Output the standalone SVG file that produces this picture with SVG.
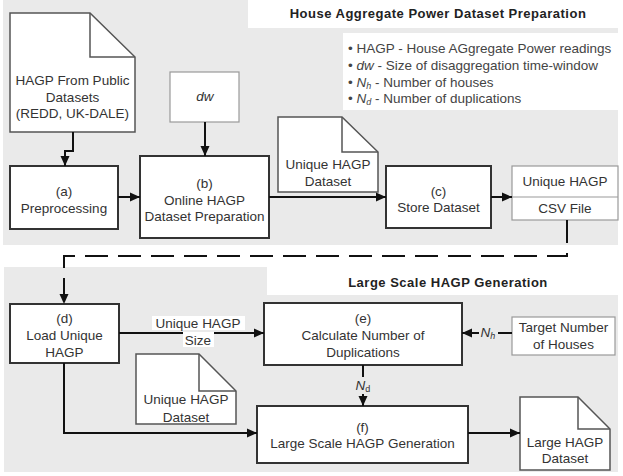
<svg xmlns="http://www.w3.org/2000/svg" width="623" height="476" viewBox="0 0 623 476">
<defs>
<marker id="ah" markerUnits="userSpaceOnUse" markerWidth="10" markerHeight="10" refX="10" refY="5" orient="auto"><path d="M0,0.5 L10,5 L0,9.5 z" fill="#111"/></marker>
<style>
text{font-family:"Liberation Sans",Arial,sans-serif;font-size:13.5px;fill:#333;text-anchor:middle}
.proc{fill:#fff;stroke:#333;stroke-width:2}
.thin{fill:#fff;stroke:#999;stroke-width:1.2}
.doc{fill:#fff;stroke:#555;stroke-width:1.5;stroke-linejoin:miter}
.fold{fill:none;stroke:#555;stroke-width:1.5}
.con{fill:none;stroke:#111;stroke-width:2}
.title{font-weight:bold;font-size:13px;letter-spacing:0.5px;fill:#222}
.leg{text-anchor:start;fill:#444}
.it{font-style:italic}
</style>
</defs>
<rect width="623" height="476" fill="#fff"/>
<g id="backgrounds">
<polygon points="3,0 248,0 248,28 618,28 618,245 3,245" fill="#eaeaea"/>
<polygon points="4,267 267,267 267,295 618,295 618,472 4,472" fill="#eaeaea"/>
</g>
<g id="title-top"><text class="title" x="438" y="18">House Aggregate Power Dataset Preparation</text></g>
<g id="title-bottom"><text class="title" x="448" y="287">Large Scale HAGP Generation</text></g>
<g id="legend">
<rect x="343" y="33" width="279" height="77" fill="#fff"/>
<text class="leg" x="348" y="52.5">• HAGP - House AGgregate Power readings</text>
<text class="leg" x="348" y="69.5">• <tspan class="it">dw</tspan> - Size of disaggregation time-window</text>
<text class="leg" x="348" y="86.5">• <tspan class="it">N</tspan><tspan class="it" font-size="9" dy="2">h</tspan><tspan dy="-2"> - Number of houses</tspan></text>
<text class="leg" x="348" y="102.5">• <tspan class="it">N</tspan><tspan class="it" font-size="9" dy="2">d</tspan><tspan dy="-2"> - Number of duplications</tspan></text>
</g>
<g id="doc-public">
<path class="doc" d="M10,13 H90 L135,57 V132 H10 Z"/>
<path class="fold" d="M90,13 V57 H135"/>
<text x="72.5" y="84.5">HAGP From Public</text>
<text x="72.5" y="101.5">Datasets</text>
<text x="72.5" y="117.5">(REDD, UK-DALE)</text>
</g>
<g id="node-a">
<rect class="proc" x="10" y="166" width="108" height="63"/>
<text x="64" y="195.5">(a)</text>
<text x="64" y="212.5">Preprocessing</text>
</g>
<g id="node-dw">
<rect class="thin" x="170" y="72" width="69" height="50"/>
<text class="it" x="205" y="101">dw</text>
</g>
<g id="node-b">
<rect class="proc" x="140" y="156" width="129" height="82"/>
<text x="204.5" y="187.5">(b)</text>
<text x="204.5" y="204.5">Online HAGP</text>
<text x="204.5" y="220.5">Dataset Preparation</text>
</g>
<g id="doc-unique-top">
<path class="doc" d="M278,117 H342 L378,152 V192 H278 Z"/>
<path class="fold" d="M342,117 V152 H378"/>
<text x="328" y="168.5">Unique HAGP</text>
<text x="328" y="186">Dataset</text>
</g>
<g id="node-c">
<rect class="proc" x="386" y="166" width="105" height="62"/>
<text x="438.5" y="195.5">(c)</text>
<text x="438.5" y="211.5">Store Dataset</text>
</g>
<g id="node-csv">
<rect class="thin" x="512" y="166" width="106" height="54"/>
<line x1="512" y1="197" x2="618" y2="197" stroke="#999" stroke-width="1.2"/>
<text x="565" y="186">Unique HAGP</text>
<text x="565" y="213">CSV File</text>
</g>
<g id="node-d">
<rect class="proc" x="10" y="304" width="109" height="59"/>
<text x="64.5" y="322.5">(d)</text>
<text x="64.5" y="339.5">Load Unique</text>
<text x="64.5" y="356.5">HAGP</text>
</g>
<g id="node-e">
<rect class="proc" x="264" y="303" width="198" height="62"/>
<text x="363" y="322.5">(e)</text>
<text x="363" y="339.5">Calculate Number of</text>
<text x="363" y="356.5">Duplications</text>
</g>
<g id="node-target">
<rect class="thin" x="512" y="317" width="103" height="38"/>
<text x="563.5" y="331.5">Target Number</text>
<text x="563.5" y="348.5">of Houses</text>
</g>
<g id="doc-unique-bottom">
<path class="doc" d="M136,354 H199 L236,391 V424 H136 Z"/>
<path class="fold" d="M199,354 V391 H236"/>
<text x="186" y="403.5">Unique HAGP</text>
<text x="186" y="421.5">Dataset</text>
</g>
<g id="node-f">
<rect class="proc" x="257" y="406" width="211" height="57"/>
<text x="362.5" y="431.5">(f)</text>
<text x="362.5" y="447.5">Large Scale HAGP Generation</text>
</g>
<g id="doc-large">
<path class="doc" d="M520,397 H578 L610,429 V470 H520 Z"/>
<path class="fold" d="M578,397 V429 H610"/>
<text x="565" y="446.5">Large HAGP</text>
<text x="565" y="462.5">Dataset</text>
</g>
<g id="connectors">
<path class="con" d="M73,132 V151 H65 V166" marker-end="url(#ah)"/>
<path class="con" d="M205,122 V156" marker-end="url(#ah)"/>
<path class="con" d="M118,197 H140" marker-end="url(#ah)"/>
<path class="con" d="M269,197 H386" marker-end="url(#ah)"/>
<path class="con" d="M491,197 H512" marker-end="url(#ah)"/>
<path class="con" d="M567,220 V256 H64 V304" stroke-width="2.5" stroke-dasharray="23,10" marker-end="url(#ah)"/>
<path class="con" d="M119,333 H264" marker-end="url(#ah)"/>
<rect x="152" y="316" width="93" height="14" fill="#fff"/>
<rect x="183" y="332" width="31" height="15" fill="#fff"/>
<text x="198" y="327.5">Unique HAGP</text>
<text x="198" y="344.5">Size</text>
<path class="con" d="M512,333 H462" marker-end="url(#ah)"/>
<rect x="479" y="325" width="19" height="16" fill="#eaeaea"/>
<text x="488" y="337"><tspan class="it">N</tspan><tspan class="it" font-size="9" dy="2">h</tspan></text>
<path class="con" d="M363,365 V406" marker-end="url(#ah)"/>
<rect x="354" y="377" width="19" height="17" fill="#eaeaea"/>
<text x="363" y="390"><tspan class="it">N</tspan><tspan font-size="9" dy="2">d</tspan></text>
<path class="con" d="M64,363 V433 H257" marker-end="url(#ah)"/>
<path class="con" d="M468,433 H520" marker-end="url(#ah)"/>
</g>
</svg>
